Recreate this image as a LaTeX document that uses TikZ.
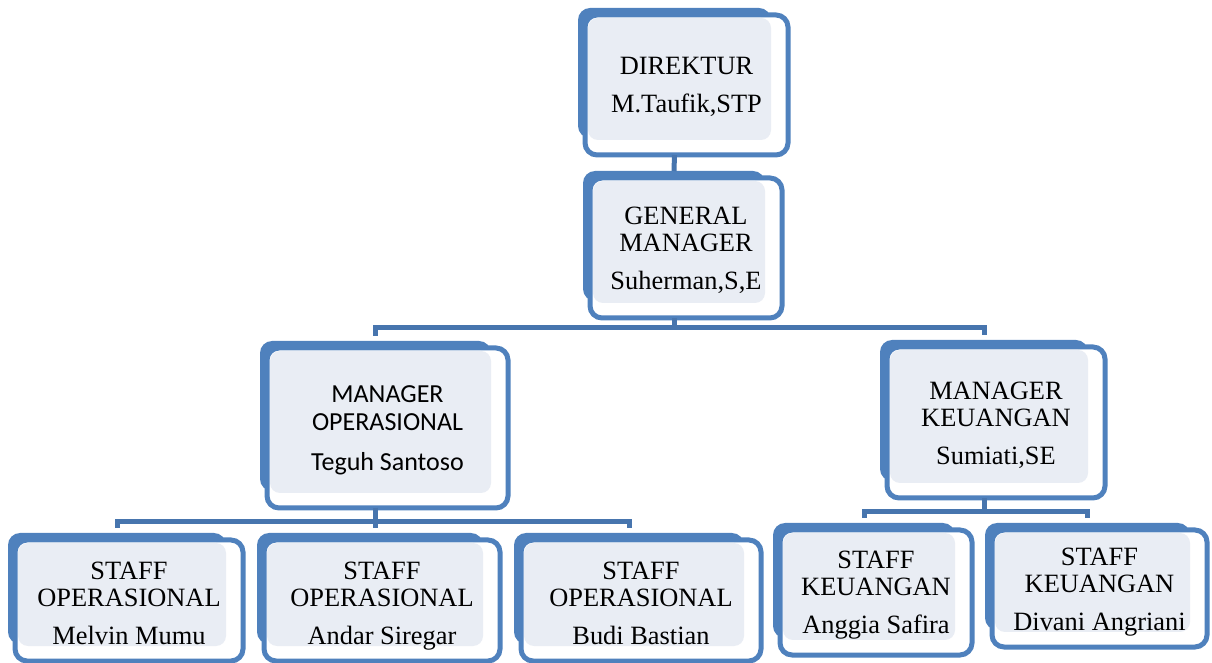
\documentclass[tikz,border=0pt]{standalone}
\usepackage{fontspec}
\setmainfont{Liberation Serif}
\newfontfamily\calibri{Carlito}
\usepackage{tikz}

\definecolor{unitblue}{RGB}{79,129,189}
\definecolor{linkblue}{RGB}{71,117,174}
\definecolor{unitpale}{RGB}{233,237,244}

\tikzset{
unitback/.style={fill=unitblue,rounded corners=6pt},
unitfront/.style={draw=unitblue,line width=2.5pt,fill=white,rounded corners=6pt},
unitlight/.style={fill=unitpale,rounded corners=5pt},
unittext/.style={align=center,inner sep=0pt,font=\fontsize{13.2}{13.5}\selectfont,
  execute at begin node=\strut,execute at end node=\strut},
link/.style={draw=linkblue,line width=2.5pt}
}

% #1 node options, #2 name, #3-#6 front box (left,top,right,bottom in px), #7 text
\newcommand{\orgunit}[7][]{%
\fill[unitback] (#3-7,#4-7) rectangle (#5-17,#6-17);
\draw[unitfront] (#3,#4) rectangle (#5,#6);
\fill[unitlight] (#3+3,#4+3) rectangle (#5-17,#6-15);
\coordinate (#2-top) at ({(#3+#5)/2-12},#4-7);
\coordinate (#2-bot) at ({(#3+#5)/2-12},#6);
\node[unittext,#1] (#2) at ({(#3+#5)/2},{(#4+#6)/2+4}) {#7};
}

\begin{document}
\begin{tikzpicture}[x=0.5pt,y=-0.5pt]
\useasboundingbox (0,0) rectangle (1212,663);

\orgunit{dir}{585}{15}{788}{155}{DIREKTUR\\[5.5pt]M.Taufik,STP}
\orgunit{gm}{590}{178}{782}{318}{GENERAL\\MANAGER\\[5.5pt]Suherman,S,E}
\orgunit[font=\calibri\fontsize{13}{14}\selectfont]{mo}{267}{348}{508}{508}{MANAGER\\OPERASIONAL\\[6pt]Teguh Santoso}
\orgunit[yshift=-0.5pt]{mk}{887}{347}{1105}{498}{MANAGER\\KEUANGAN\\[5.5pt]Sumiati,SE}

\orgunit[yshift=-1.5pt]{so1}{15}{540}{243}{661}{STAFF\\OPERASIONAL\\[5.5pt]Melvin Mumu}
\orgunit[yshift=-1.5pt]{so2}{264}{540}{500}{661}{STAFF\\OPERASIONAL\\[5.5pt]Andar Siregar}
\orgunit[yshift=-1.5pt]{so3}{521}{540}{761}{661}{STAFF\\OPERASIONAL\\[5.5pt]Budi Bastian}
\orgunit{sk1}{780}{530}{972}{655}{STAFF\\KEUANGAN\\[5.5pt]Anggia Safira}
\orgunit[yshift=-0.5pt]{sk2}{992}{530}{1207}{647}{STAFF\\KEUANGAN\\[5.5pt]Divani Angriani}

% connectors
\draw[link] (dir-bot) -- (gm-top);
\draw[link] (gm-bot) -- ++(0,10) coordinate (bus1);
\draw[link,shorten <=2.5pt,shorten >=2.5pt] (mo-top) |- (bus1) -| (mk-top);

\draw[link] (mo-bot) -- ++(0,14) coordinate (bus2);
\draw[link,shorten <=2.5pt,shorten >=2.5pt] (so1-top) |- (bus2) -| (so3-top);
\draw[link,shorten >=2.5pt] (bus2) -- (bus2 |- so2-top);

\draw[link] (mk-bot) -- ++(0,14) coordinate (bus3);
\draw[link,shorten <=2.5pt,shorten >=2.5pt] (sk1-top) |- (bus3) -| (sk2-top);
\end{tikzpicture}
\end{document}
